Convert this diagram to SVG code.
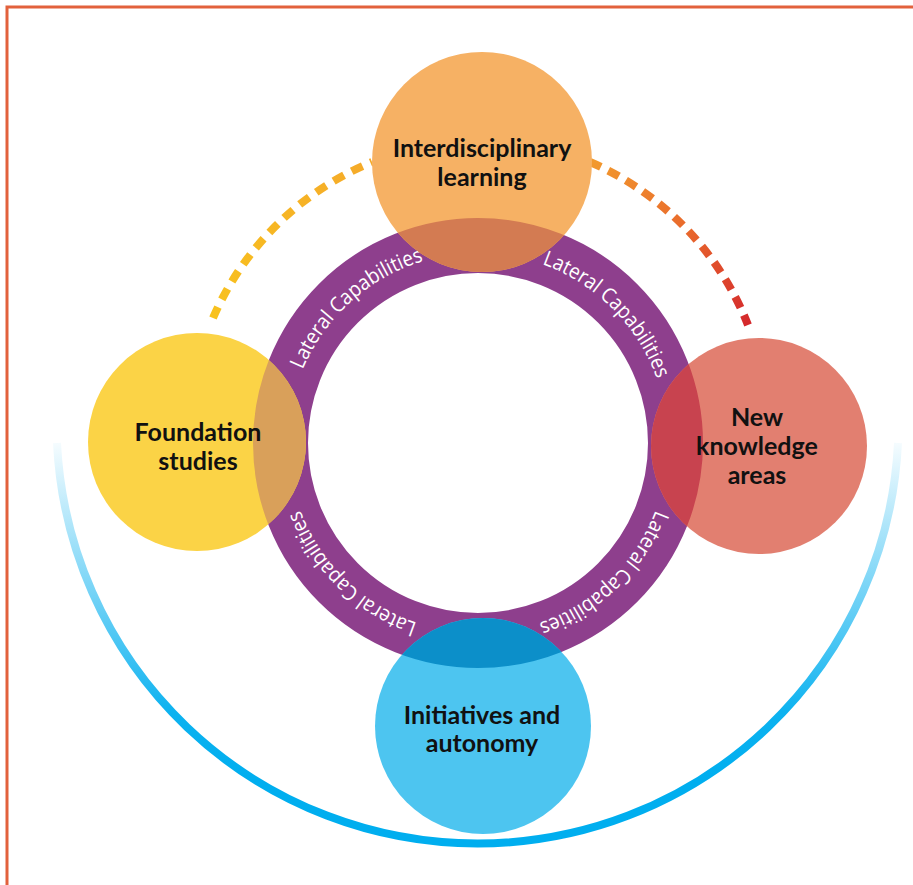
<svg xmlns="http://www.w3.org/2000/svg" xmlns:xlink="http://www.w3.org/1999/xlink" width="913" height="885" viewBox="0 0 913 885">
  <defs>
    <style>
      .ring { fill: none; stroke-width: 55; }
      .label { font-family: Lato, "Liberation Sans", sans-serif; font-weight: 700; font-size: 25px; fill: #111; text-anchor: middle; }
      .ringtext { font-family: "Open Sans", "Noto Sans", sans-serif; font-size: 21px; fill: #fff; text-anchor: middle; }
      .dash { fill: none; stroke-width: 8; }
    </style>
    <!-- clockwise circle used for the ring captions, starting at the left -->
    <path id="captionPath" d="M 288 443 A 190 190 0 1 1 668 443 A 190 190 0 1 1 288 443"/>
    <clipPath id="clipTop"><circle cx="482" cy="162" r="110"/></clipPath>
    <clipPath id="clipLeft"><circle cx="197" cy="442" r="109"/></clipPath>
    <clipPath id="clipRight"><circle cx="759" cy="446" r="108"/></clipPath>
    <clipPath id="clipBottom"><circle cx="483" cy="726" r="108"/></clipPath>
    <linearGradient id="gradLeft" gradientUnits="userSpaceOnUse" x1="213" y1="318" x2="372" y2="162">
      <stop offset="0" stop-color="#F8C21E"/>
      <stop offset="1" stop-color="#F5AA2A"/>
    </linearGradient>
    <linearGradient id="gradRight" gradientUnits="userSpaceOnUse" x1="590" y1="162" x2="748" y2="325">
      <stop offset="0" stop-color="#F29A2E"/>
      <stop offset="0.5" stop-color="#E96A2C"/>
      <stop offset="1" stop-color="#D4282C"/>
    </linearGradient>
    <linearGradient id="gradBlue" gradientUnits="userSpaceOnUse" x1="0" y1="440" x2="0" y2="780">
      <stop offset="0" stop-color="#00AEEF" stop-opacity="0.03"/>
      <stop offset="0.5" stop-color="#00AEEF" stop-opacity="0.6"/>
      <stop offset="0.8" stop-color="#00AEEF" stop-opacity="0.95"/>
      <stop offset="1" stop-color="#00AEEF" stop-opacity="1"/>
    </linearGradient>
  </defs>

  <rect x="0" y="0" width="913" height="885" fill="#fff"/>
  <!-- frame -->
  <rect x="7" y="7" width="930" height="900" fill="none" stroke="#E2613C" stroke-width="3"/>

  <g id="connectors">
    <path class="dash" stroke="url(#gradLeft)" stroke-dasharray="12 8.6" d="M 213 318 A 295 295 0 0 1 372 162"/>
    <path class="dash" stroke="url(#gradRight)" stroke-dasharray="12 8.2" d="M 590 162 A 295 295 0 0 1 748 325"/>
    <path fill="none" stroke="url(#gradBlue)" stroke-width="8" d="M 57 443 A 421 421 0 0 0 898 443"/>
  </g>

  <g id="ring">
    <circle class="ring" cx="478" cy="443" r="197.5" stroke="#8E3F8D"/>
    <text class="ringtext"><textPath xlink:href="#captionPath" startOffset="13.33%" textLength="168" lengthAdjust="spacingAndGlyphs">Lateral Capabilities</textPath></text>
    <text class="ringtext"><textPath xlink:href="#captionPath" startOffset="37.5%" textLength="168" lengthAdjust="spacingAndGlyphs">Lateral Capabilities</textPath></text>
    <text class="ringtext"><textPath xlink:href="#captionPath" startOffset="62.78%" textLength="168" lengthAdjust="spacingAndGlyphs">Lateral Capabilities</textPath></text>
    <text class="ringtext"><textPath xlink:href="#captionPath" startOffset="87.22%" textLength="168" lengthAdjust="spacingAndGlyphs">Lateral Capabilities</textPath></text>
  </g>

  <g id="interdisciplinary">
    <circle cx="482" cy="162" r="110" fill="#F6B164"/>
    <circle class="ring" cx="478" cy="443" r="197.5" stroke="#D37B52" clip-path="url(#clipTop)"/>
    <text class="label" x="482" y="157">Interdisciplinary</text>
    <text class="label" x="482" y="186">learning</text>
  </g>

  <g id="foundation">
    <circle cx="197" cy="442" r="109" fill="#FBD346"/>
    <circle class="ring" cx="478" cy="443" r="197.5" stroke="#D9A05A" clip-path="url(#clipLeft)"/>
    <text class="label" x="198" y="441">Foundation</text>
    <text class="label" x="198" y="470">studies</text>
  </g>

  <g id="new-knowledge">
    <circle cx="759" cy="446" r="108" fill="#E27F70"/>
    <circle class="ring" cx="478" cy="443" r="197.5" stroke="#C8434F" clip-path="url(#clipRight)"/>
    <text class="label" x="757" y="426">New</text>
    <text class="label" x="757" y="455">knowledge</text>
    <text class="label" x="757" y="484">areas</text>
  </g>

  <g id="initiatives">
    <circle cx="483" cy="726" r="108" fill="#4DC5F0"/>
    <circle class="ring" cx="478" cy="443" r="197.5" stroke="#0C8FC9" clip-path="url(#clipBottom)"/>
    <text class="label" x="482" y="724">Initiatives and</text>
    <text class="label" x="482" y="752">autonomy</text>
  </g>
</svg>
